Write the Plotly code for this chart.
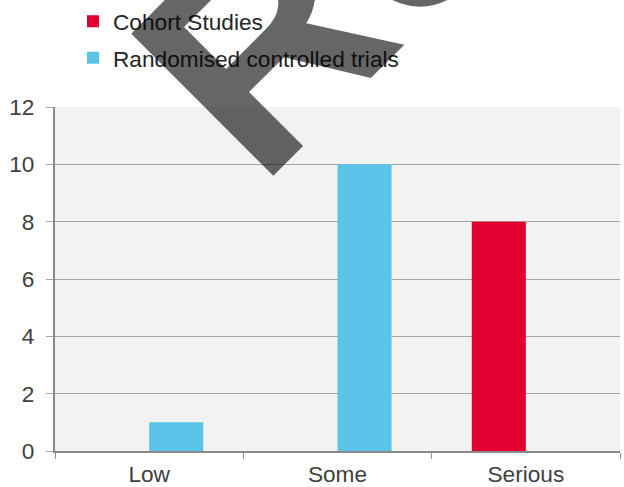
import plotly.graph_objects as go

categories = ["Low", "Some", "Serious"]
cohort_values = [0, 0, 8]
rct_values = [1, 10, 0]
series_names = ["Cohort Studies", "Randomised controlled trials"]
y_ticks = [0, 2, 4, 6, 8, 10, 12]

RED = "#E1002F"
BLUE = "#5BC3E7"
FONT = "Liberation Sans, Arial, sans-serif"
FS = 22.67

fig = go.Figure()
fig.add_trace(go.Bar(x=categories, y=cohort_values, name=series_names[0],
                     marker=dict(color=RED, line=dict(width=0)), legendgroup="a"))
fig.add_trace(go.Bar(x=categories, y=rct_values, name=series_names[1],
                     marker=dict(color=BLUE, line=dict(width=0)), legendgroup="b"))

fig.update_layout(
    width=624, height=487,
    margin=dict(l=55, r=4, t=107, b=36),
    paper_bgcolor="white",
    plot_bgcolor="#F2F2F2",
    barmode="group",
    bargap=0.426,
    bargroupgap=0,
    font=dict(family=FONT, size=FS, color="#404040"),
    showlegend=True,
    legend=dict(x=(93 - 20 - 55) / 565, xref="paper", xanchor="left", y=1.006,
                yanchor="top", yref="container", orientation="v",
                traceorder="grouped", tracegroupgap=4,
                font=dict(size=FS, color="#262626"),
                bgcolor="rgba(0,0,0,0)", itemwidth=30),
    xaxis=dict(showline=True, linecolor="#898989", linewidth=2,
               ticks="outside", tickson="boundaries", ticklen=6,
               tickcolor="#898989", tickwidth=1, showgrid=False,
               ticklabelstandoff=2, automargin=False,
               tickfont=dict(size=FS, color="#404040")),
    yaxis=dict(range=[0, 12], tickvals=y_ticks, showline=True,
               linecolor="#898989", linewidth=2, ticks="outside", ticklen=7,
               tickcolor="#A6A6A6", tickwidth=1, showgrid=True,
               gridcolor="#A6A6A6", gridwidth=1, zeroline=False,
               ticklabelstandoff=7, automargin=False,
               tickfont=dict(size=FS, color="#404040")),
)

fig.add_annotation(text="<b>Re</b>", xref="paper", yref="paper", x=0.469, y=1.353,
                   xanchor="center", yanchor="middle", textangle=-45,
                   showarrow=False,
                   font=dict(family=FONT, size=292, color="rgba(0,0,0,0.6)"))

fig.write_html("out.html")
